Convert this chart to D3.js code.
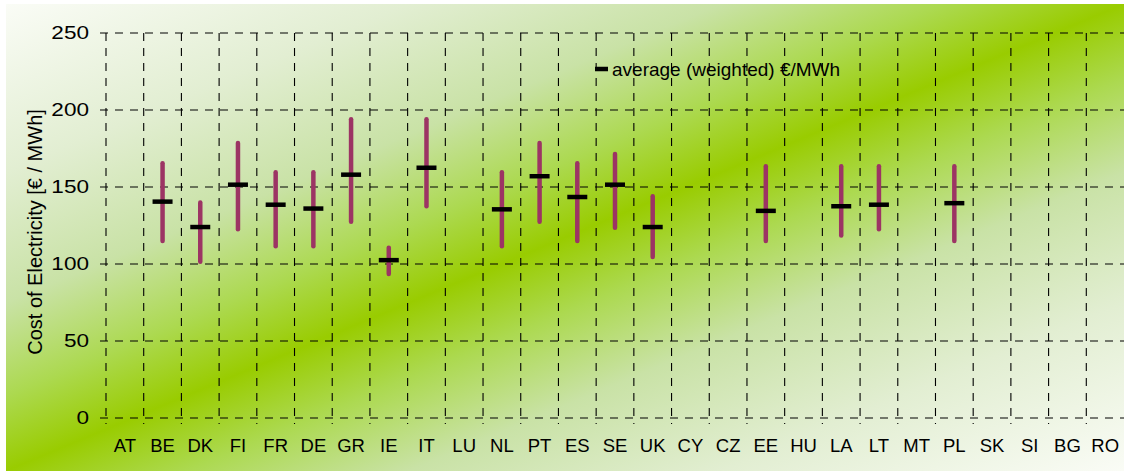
<!DOCTYPE html>
<html><head><meta charset="utf-8">
<script src="https://cdn.jsdelivr.net/npm/d3@7"></script>
<style>html,body{margin:0;padding:0;background:#fff;overflow:hidden}svg{display:block}</style>
</head><body>
<script>
const categories = ["AT","BE","DK","FI","FR","DE","GR","IE","IT","LU","NL","PT","ES","SE","UK","CY","CZ","EE","HU","LA","LT","MT","PL","SK","SI","BG","RO"];
const highs    = [null,165.5,140,178.5,159.5,159.5,194,110.5,194,null,159.5,178.5,165.5,171.5,144,null,null,163.5,null,163.5,163.5,null,163.5,null,null,null,null];
const lows     = [null,115,101.5,122.5,111.5,111.5,127.5,93.5,137.5,null,111.5,127.5,115,123.5,104.5,null,null,115,null,118.5,122.5,null,115,null,null,null,null];
const averages = [null,140.5,124,151.5,138.5,136,158,102.5,162.5,null,135.5,157,143.5,151.5,124,null,null,134.5,null,137.5,138.5,null,139.5,null,null,null,null];
const yTicks = [0,50,100,150,200,250];
const legendLabel = "average (weighted) €/MWh";
const yTitle = "Cost of Electricity [€ / MWh]";

const W = 1124, H = 471;
const svg = d3.select("body").append("svg").attr("width", W).attr("height", H);
const defs = svg.append("defs");
const grad = defs.append("linearGradient").attr("id","bg").attr("x1",0).attr("y1",0).attr("x2",1).attr("y2",1);
[[0,"#fafcf6"],[0.18,"#e2eed2"],[0.32,"#c9e2a6"],[0.42,"#acd950"],[0.5,"#99cc00"],[0.58,"#acd950"],[0.68,"#c9e2a6"],[0.82,"#e2eed2"],[1,"#fafcf6"]]
  .forEach(([o,c]) => grad.append("stop").attr("offset",o).attr("stop-color",c));
svg.append("rect").attr("x",6).attr("y",4).attr("width",W-6).attr("height",H-4).attr("fill","url(#bg)");

const x = d3.scaleBand().domain(categories).range([106, 1124]).padding(0);
const y = d3.scaleLinear().domain([0,250]).range([418, 33]);

const font = "'Liberation Sans', Arial, Helvetica, sans-serif";
const dash = "8,7";
const gridColor = "#000";

// horizontal grid
svg.append("g").selectAll("line").data(yTicks).join("line")
  .attr("x1",100).attr("x2",W).attr("y1",d=>y(d)).attr("y2",d=>y(d))
  .attr("stroke",gridColor).attr("stroke-width",1.1).attr("stroke-dasharray",dash);
// vertical grid at band boundaries
svg.append("g").selectAll("line").data(categories).join("line")
  .attr("x1",d=>x(d)).attr("x2",d=>x(d)).attr("y1",y(250)).attr("y2",y(0)+6)
  .attr("stroke",gridColor).attr("stroke-width",1.1).attr("stroke-dasharray",dash);

// y tick labels
svg.append("g").selectAll("text").data(yTicks).join("text")
  .attr("transform",d=>`translate(89,${y(d)}) scale(1.22,1)`)
  .attr("dy","0.35em").attr("text-anchor","end")
  .style("font-family",font).style("font-size","18.5px").attr("fill","#000")
  .text(d=>d);

// x labels
svg.append("g").selectAll("text").data(categories).join("text")
  .attr("x",d=>x(d)+x.bandwidth()/2).attr("y",452)
  .attr("text-anchor","middle")
  .style("font-family",font).style("font-size","18.5px").attr("fill","#000")
  .text(d=>d);

// y title
svg.append("text").attr("transform","translate(41.5,232) rotate(-90)")
  .attr("text-anchor","middle")
  .style("font-family",font).style("font-size","20px").attr("fill","#000")
  .text(yTitle);

const data = categories.map((c,i)=>({c, hi:highs[i], lo:lows[i], avg:averages[i]})).filter(d=>d.hi!=null);

// range bars
svg.append("g").selectAll("line").data(data).join("line")
  .attr("x1",d=>x(d.c)+x.bandwidth()/2).attr("x2",d=>x(d.c)+x.bandwidth()/2)
  .attr("y1",d=>y(d.hi)).attr("y2",d=>y(d.lo))
  .attr("stroke","#9c3464").attr("stroke-width",4.5).attr("stroke-linecap","round");

// averages
svg.append("g").selectAll("line").data(data).join("line")
  .attr("x1",d=>x(d.c)+x.bandwidth()/2-10).attr("x2",d=>x(d.c)+x.bandwidth()/2+10)
  .attr("y1",d=>y(d.avg)).attr("y2",d=>y(d.avg))
  .attr("stroke","#000").attr("stroke-width",4.5);

// legend
const lg = svg.append("g");
lg.append("line").attr("x1",595).attr("x2",608).attr("y1",69).attr("y2",69).attr("stroke","#000").attr("stroke-width",4.5);
lg.append("text").attr("x",612).attr("y",76)
  .style("font-family",font).style("font-size","19px").attr("fill","#000").text(legendLabel);
</script>
</body></html>
